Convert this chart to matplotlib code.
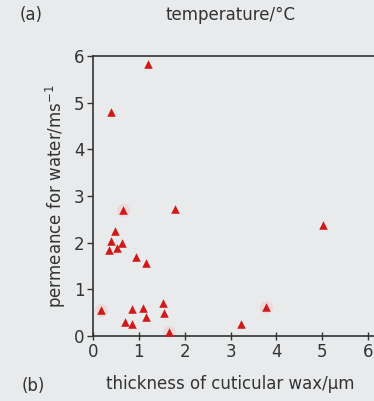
import matplotlib.pyplot as plt

# thickness of cuticular wax (um) vs permeance for water
wax = [1.21, 0.39, 0.66, 1.79, 5.02, 0.48, 0.39, 0.64, 0.52, 0.34, 0.93, 1.15,
       0.17, 0.85, 1.08, 1.16, 1.52, 1.54, 0.70, 0.85, 1.66, 3.23, 3.78]
perm = [5.82, 4.79, 2.70, 2.73, 2.38, 2.25, 2.03, 2.00, 1.89, 1.84, 1.70, 1.56,
        0.56, 0.57, 0.61, 0.41, 0.70, 0.50, 0.29, 0.25, 0.08, 0.25, 0.63]
# points with a pale halo in the original
halo_x = [0.66, 0.17, 1.66, 3.78]
halo_y = [2.70, 0.56, 0.08, 0.63]

bg = '#e9eaeb'
plt.rcParams['font.family'] = ['DejaVu Sans']

fig = plt.figure(figsize=(3.74, 4.01), dpi=100, facecolor=bg)
ax = fig.add_axes([93/374, 1 - 336/401, 281/374, 280/401], facecolor=bg)

ax.scatter(halo_x, halo_y, s=90, color='#f1ccd0', alpha=0.6, zorder=2, linewidths=0)
ax.scatter(wax, perm, marker='^', s=38, color='#d01a1a', zorder=3, linewidths=0, clip_on=False)

ax.set_xlim(0, 6.13)
ax.set_ylim(0, 6)
ax.set_xticks(range(0, 7))
ax.set_yticks(range(0, 7))
ax.spines['right'].set_visible(False)
for s in ['left', 'bottom', 'top']:
    ax.spines[s].set_color('#333333')
    ax.spines[s].set_linewidth(1.2)
ax.tick_params(colors='#333333', labelsize=12, length=4, width=1, pad=2)
ax.tick_params(axis='x', direction='inout', length=6)

ax.set_ylabel('permeance for water/ms$^{-1}$', fontsize=12, color='#333333', labelpad=4)

fig.text(20/374, 1 - 15/401, '(a)', fontsize=12, color='#333333', va='center')
fig.text(230/374, 1 - 15/401, 'temperature/°C', fontsize=12, color='#333333', va='center', ha='center')
fig.text(22/374, 1 - 386/401, '(b)', fontsize=12, color='#333333', va='center')
fig.text(230/374, 1 - 384/401, 'thickness of cuticular wax/μm', fontsize=12, color='#333333', va='center', ha='center')

fig.savefig('out.png', dpi=100, facecolor=bg)
